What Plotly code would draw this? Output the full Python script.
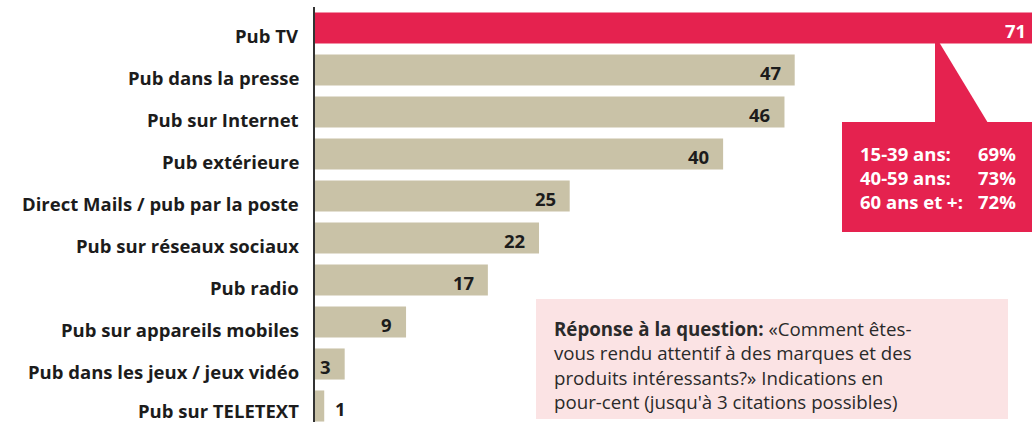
import plotly.graph_objects as go

# Survey results: how respondents notice brands and products (percent)
categories = [
    "Pub TV",
    "Pub dans la presse",
    "Pub sur Internet",
    "Pub extérieure",
    "Direct Mails / pub par la poste",
    "Pub sur réseaux sociaux",
    "Pub radio",
    "Pub sur appareils mobiles",
    "Pub dans les jeux / jeux vidéo",
    "Pub sur TELETEXT",
]
values = [71, 47, 46, 40, 25, 22, 17, 9, 3, 1]

age_groups = ["15-39 ans:", "40-59 ans:", "60 ans et +:"]
age_values = ["69%", "73%", "72%"]

note_lines = [
    "<b>Réponse à la question:</b> «Comment êtes-",
    "vous rendu attentif à des marques et des",
    "produits intéressants?» Indications en",
    "pour-cent (jusqu'à 3 citations possibles)",
]

RED = "#E5224F"
BEIGE = "#C9C2A7"
INK = "#1c1c1c"
FONT = "Open Sans"
LABEL_SIZE = 18.5

W, H = 1032, 422
ML, MT = 314, 7
XMAX = 70.2                      # visible part of the value axis
PX_PER_UNIT = (W - ML) / XMAX
ROW_PX = 42.0
ymin_val = -0.5
ymax_val = -0.5 + (H - MT) / ROW_PX


def px(x):
    return (x - ML) / (W - ML)


def py(y):
    return 1 - (y - MT) / (H - MT)


idx = list(range(len(categories)))
colors = [RED] + [BEIGE] * (len(values) - 1)

fig = go.Figure(go.Bar(
    x=values, y=idx, orientation="h",
    marker=dict(color=colors, line=dict(width=0)),
    width=0.74, hoverinfo="skip", cliponaxis=True,
))

annotations = []
last = len(categories) - 1
for i, (c, v) in enumerate(zip(categories, values)):
    # category names sit a little below the bar centre; the bottom one is
    # kept inside the page
    annotations.append(dict(
        x=0, y=i, xref="x", yref="y", text=c, showarrow=False,
        xanchor="right", yanchor="middle", xshift=-13,
        yshift=-4 if i == last else -7,
        font=dict(family=FONT, size=LABEL_SIZE, color=INK, weight="bold"),
    ))
    vfont = dict(family=FONT, size=LABEL_SIZE, weight="bold",
                 color="white" if i == 0 else INK)
    if v < 3:
        annotations.append(dict(
            x=v, y=i, xref="x", yref="y", text=str(v), showarrow=False,
            xanchor="left", yanchor="middle", xshift=9, yshift=-2, font=vfont,
        ))
    else:
        # bars running past the visible range keep their label at the true end
        over = max(0.0, v - XMAX) * PX_PER_UNIT
        annotations.append(dict(
            x=min(v, XMAX), y=i, xref="x", yref="y", text=str(v), showarrow=False,
            xanchor="right", yanchor="middle", xshift=-12 + over, yshift=-2,
            font=vfont,
        ))

# callout with age breakdown
cfont = dict(family=FONT, size=LABEL_SIZE, color="white", weight="bold")
annotations.append(dict(
    x=px(858), y=py(177), xref="paper", yref="paper", showarrow=False,
    xanchor="left", yanchor="middle", align="left",
    text="<br>".join(age_groups), font=cfont,
))
annotations.append(dict(
    x=px(1018), y=py(177), xref="paper", yref="paper", showarrow=False,
    xanchor="right", yanchor="middle", align="right",
    text="<br>".join(age_values), font=cfont,
))

# question note
annotations.append(dict(
    x=px(552), y=py(365), xref="paper", yref="paper",
    showarrow=False, xanchor="left", yanchor="middle", align="left",
    text="<br>".join(note_lines),
    font=dict(family=FONT, size=18.7, color="#2a2a2a"),
))

shapes = [
    # note background
    dict(type="rect", xref="paper", yref="paper", layer="below",
         x0=px(536), x1=px(1008), y0=py(299), y1=py(419),
         fillcolor="#FBE3E4", line=dict(width=0)),
    # callout box
    dict(type="rect", xref="paper", yref="paper", layer="above",
         x0=px(842), x1=px(1032), y0=py(122), y1=py(232),
         fillcolor=RED, line=dict(width=0)),
    # callout pointer
    dict(type="path", xref="paper", yref="paper", layer="above",
         path=(f"M {px(935)},{py(42)} L {px(939)},{py(42)} "
               f"L {px(988)},{py(123)} L {px(935)},{py(123)} Z"),
         fillcolor=RED, line=dict(width=0)),
    # axis line
    dict(type="line", xref="paper", yref="paper", layer="above",
         x0=0, x1=0, y0=0, y1=1, line=dict(color="#333333", width=2)),
]

fig.update_layout(
    width=W, height=H,
    margin=dict(l=ML, r=0, t=MT, b=0),
    paper_bgcolor="white", plot_bgcolor="white",
    showlegend=False,
    xaxis=dict(range=[0, XMAX], visible=False, fixedrange=True),
    yaxis=dict(range=[ymax_val, ymin_val], visible=False, fixedrange=True),
    annotations=annotations,
    shapes=shapes,
)

fig.write_html("out.html", config={"displayModeBar": False})
